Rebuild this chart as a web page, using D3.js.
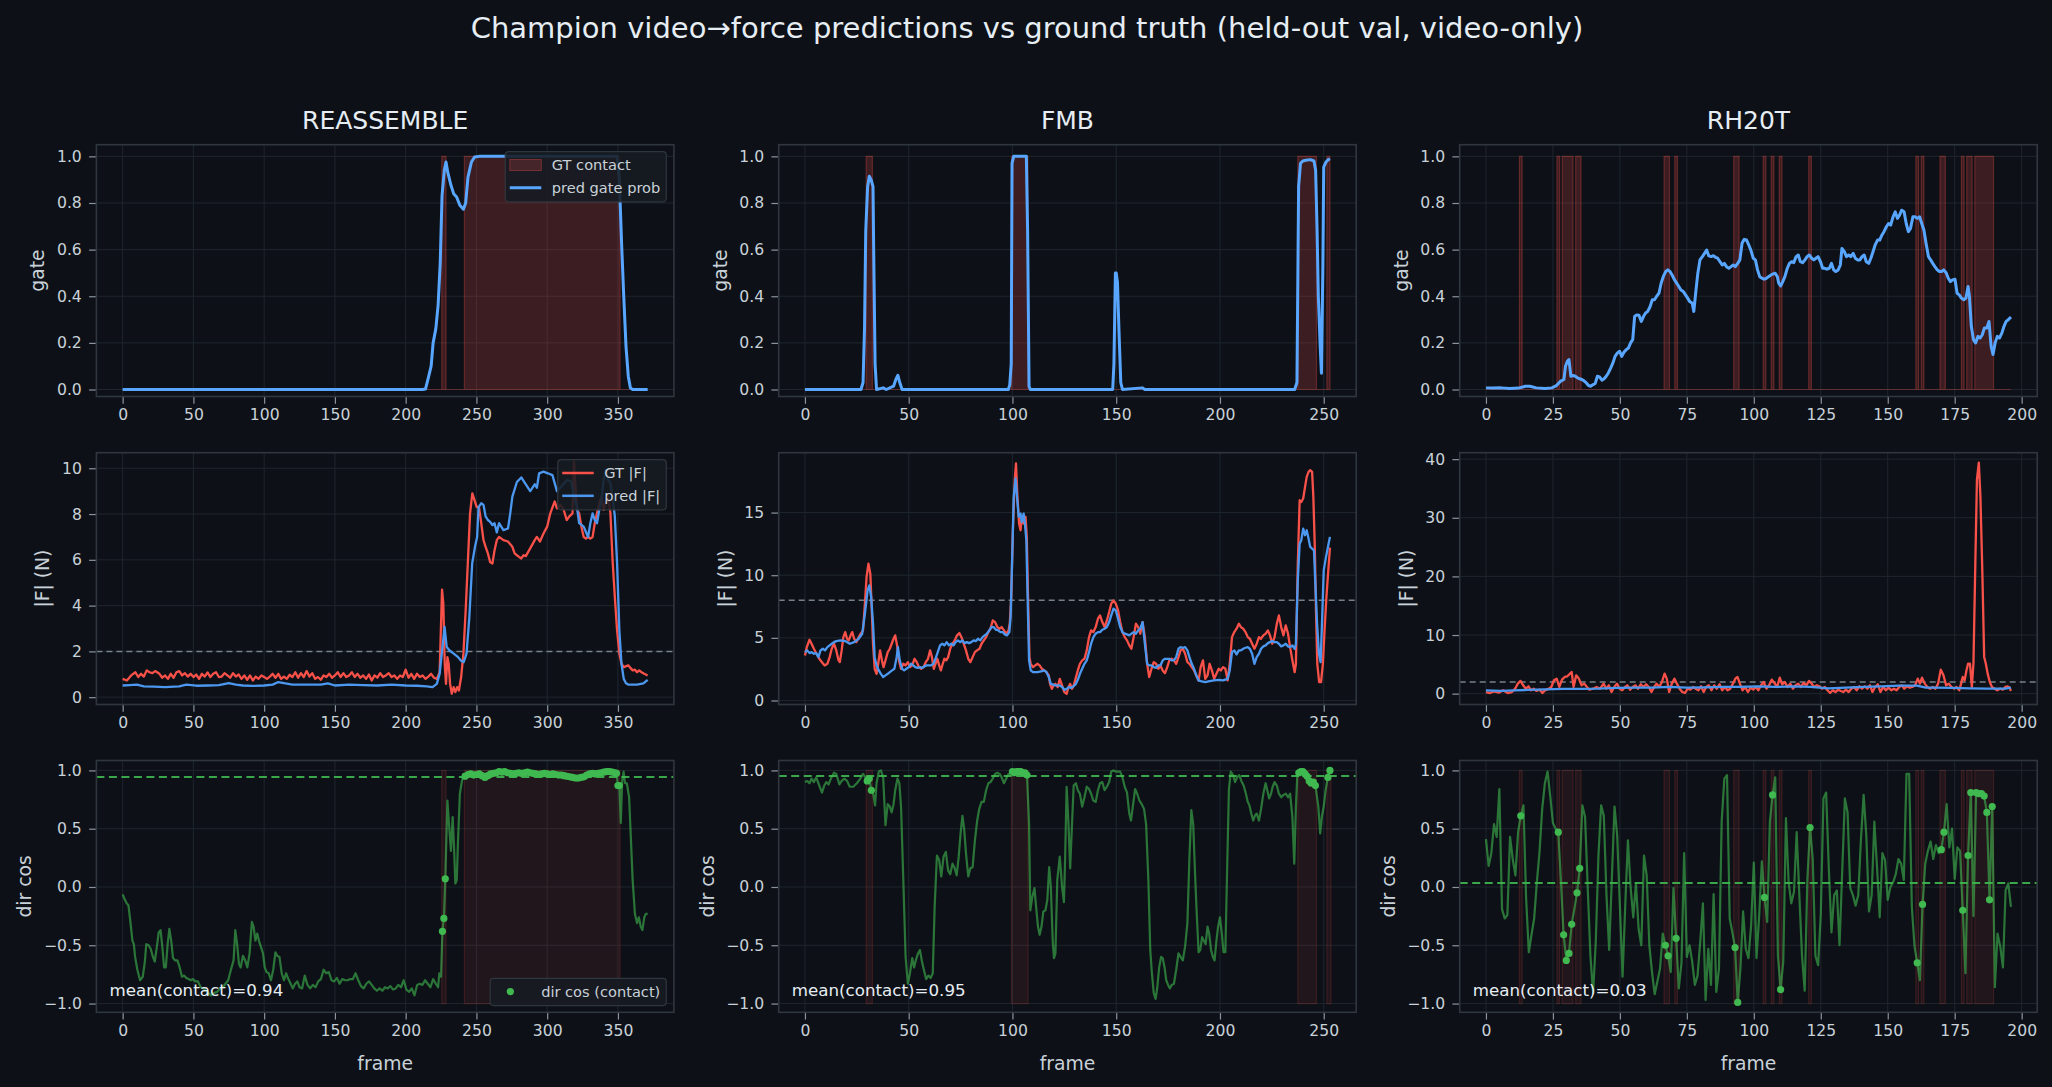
<!DOCTYPE html>
<html>
<head>
<meta charset="utf-8">
<title>Champion video→force predictions</title>
<script src="https://cdn.jsdelivr.net/npm/d3@7"></script>
<style>
  body { margin: 0; background: #0d1117; }
  svg { display: block; font-family: "DejaVu Sans", sans-serif; }
</style>
</head>
<body>
<svg id="chart" width="2052" height="1087"></svg>
<script>
// ---------- data ----------
const datasets = ['REASSEMBLE', 'FMB', 'RH20T'];
const frameCounts = [372, 254, 197];
const xTickVals = [[0, 50, 100, 150, 200, 250, 300, 350], [0, 50, 100, 150, 200, 250], [0, 25, 50, 75, 100, 125, 150, 175, 200]];
const gateTicks = [0, 0.2, 0.4, 0.6, 0.8, 1.0];
const forceTicks = [[0, 2, 4, 6, 8, 10], [0, 5, 10, 15], [0, 10, 20, 30, 40]];
const dirTicks = [-1, -0.5, 0, 0.5, 1];
const forceThresh = [2, 8, 2];
const dirMeans = [0.943, 0.951, 0.034];

// contact frames as [first, last] runs
const reContact = [[226, 228], [242, 351]];
const fmContact = [[30, 32], [100, 107], [238, 246], [252, 253]];
const rhContact = [[13, 13], [27, 27], [29, 32], [34, 35], [67, 68], [71, 71], [93, 94], [104, 104], [107, 107], [110, 110], [121, 121], [161, 161], [163, 163], [170, 171], [178, 178], [180, 181], [183, 189]];

// predicted gate probability [frame, p]
const reGate = [[0,0],[212,0],[214,0.002],[216,0.05],[218,0.1],[219.4,0.2],[221.3,0.26],[222.9,0.36],[224.4,0.54],[225.7,0.83],[227.3,0.94],[228.5,0.976],[229.8,0.93],[232,0.876],[233.9,0.84],[236,0.826],[238.3,0.79],[240.8,0.773],[242.4,0.8],[244,0.91],[246.5,0.976],[248.7,0.997],[251.8,1],[349.4,1],[351,0.9],[352.5,0.64],[354.1,0.4],[355.7,0.185],[357.3,0.057],[358.8,0.007],[360.4,0],[371,0]];
const fmGate = [[0,0],[27,0],[28,0.03],[28.7,0.26],[29.3,0.68],[30.2,0.87],[31,0.915],[31.9,0.9],[32.8,0.87],[33.2,0.54],[33.8,0.11],[34.5,0],[37.7,0.007],[39.2,0],[42.7,0.014],[43.8,0.043],[44.8,0.061],[45.7,0.03],[46.8,0],[98,0],[98.7,0.02],[99.4,0.11],[99.8,0.97],[100.6,1],[106.7,1],[107.3,0.68],[108,0.014],[108.6,0],[148.3,0],[148.9,0.11],[149.6,0.5],[150,0.5],[150.6,0.46],[151.3,0.26],[152.2,0.03],[153,0],[162.7,0.007],[163.8,0],[236,0],[237.1,0.03],[237.9,0.87],[238.8,0.97],[239.9,0.98],[241.4,0.983],[243.5,0.986],[245.3,0.98],[246.1,0.94],[246.8,0.68],[247.4,0.4],[248.3,0.185],[248.9,0.07],[249.6,0.54],[250,0.954],[251.1,0.976],[252.2,0.986],[253,0.99]];
const rhGate = [[0,0.007],[2.3,0.006],[5.6,0.007],[8.9,0.004],[12.2,0.006],[14.7,0.014],[16.4,0.014],[18.8,0.007],[22.1,0.004],[24.6,0.007],[26.3,0.017],[27.9,0.036],[29.1,0.043],[29.7,0.1],[30.4,0.121],[31,0.128],[31.7,0.057],[32.5,0.06],[33.4,0.057],[34.2,0.05],[35,0.046],[35.8,0.043],[36.7,0.036],[37.5,0.028],[38.3,0.017],[39.1,0.014],[40,0.021],[40.8,0.026],[41.6,0.057],[42.4,0.054],[43.3,0.04],[44.1,0.046],[44.9,0.057],[45.7,0.071],[46.6,0.093],[47.4,0.114],[48.2,0.142],[49.1,0.157],[49.9,0.164],[50.7,0.142],[51.5,0.16],[52.4,0.171],[53.2,0.178],[54,0.2],[54.8,0.214],[55.5,0.313],[56.3,0.32],[57.1,0.319],[58,0.292],[58.8,0.313],[59.6,0.328],[60.4,0.335],[61.3,0.356],[62.1,0.385],[62.9,0.385],[63.7,0.399],[64.6,0.413],[65.4,0.456],[66.2,0.484],[67.1,0.506],[67.9,0.513],[68.7,0.506],[69.5,0.491],[70.4,0.47],[71.2,0.456],[72,0.442],[72.8,0.427],[73.7,0.42],[74.5,0.406],[75.3,0.392],[76.1,0.377],[77,0.37],[77.6,0.335],[78.3,0.413],[79.1,0.499],[79.9,0.556],[80.8,0.57],[81.6,0.584],[82.4,0.598],[83.2,0.573],[84.1,0.57],[84.9,0.574],[85.7,0.567],[86.5,0.563],[87.4,0.548],[88.2,0.534],[89,0.541],[89.8,0.527],[90.7,0.52],[91.5,0.527],[92.3,0.534],[93.1,0.527],[94,0.541],[94.8,0.556],[95.6,0.627],[96.4,0.644],[97.3,0.641],[98.1,0.62],[98.9,0.598],[99.8,0.563],[100.6,0.556],[101.4,0.513],[102.2,0.484],[103.1,0.477],[103.9,0.473],[104.7,0.477],[105.5,0.484],[106.4,0.491],[107.2,0.496],[108,0.499],[108.8,0.484],[109.3,0.456],[110,0.444],[110.8,0.463],[111.6,0.484],[112.5,0.52],[113.3,0.541],[114.1,0.548],[114.9,0.544],[115.8,0.57],[116.6,0.577],[117.4,0.548],[118.2,0.544],[119.1,0.556],[119.9,0.57],[120.7,0.577],[121.6,0.563],[122.4,0.556],[123.2,0.563],[124,0.57],[124.9,0.548],[125.7,0.52],[126.5,0.52],[127.3,0.516],[128.2,0.52],[129,0.541],[129.8,0.513],[130.6,0.506],[131.5,0.513],[132.3,0.534],[132.9,0.605],[133.8,0.591],[134.6,0.57],[135.4,0.577],[136.2,0.57],[137.1,0.584],[137.9,0.563],[138.7,0.556],[139.6,0.556],[140.4,0.57],[141.2,0.577],[142,0.548],[142.9,0.541],[143.7,0.563],[144.5,0.591],[145.3,0.62],[146.2,0.641],[147,0.641],[147.8,0.662],[148.6,0.677],[149.5,0.698],[150.3,0.712],[151.1,0.705],[152,0.741],[152.8,0.762],[153.6,0.734],[154.4,0.748],[155.2,0.769],[156.1,0.762],[156.9,0.712],[157.7,0.677],[158.5,0.691],[159.4,0.741],[160.2,0.741],[161,0.734],[161.9,0.741],[162.7,0.712],[163.5,0.684],[164.3,0.627],[165.2,0.57],[166,0.556],[166.8,0.541],[167.6,0.527],[168.5,0.513],[169.3,0.506],[170.1,0.506],[170.9,0.513],[171.8,0.501],[172.6,0.477],[173.4,0.463],[174.2,0.47],[175.1,0.473],[175.9,0.413],[176.7,0.406],[177.5,0.392],[178.4,0.385],[179.2,0.392],[180,0.442],[180.5,0.399],[181.2,0.271],[182,0.214],[182.8,0.2],[183.7,0.228],[184.5,0.221],[185.3,0.235],[186.1,0.264],[187,0.264],[187.8,0.292],[188.6,0.185],[189.3,0.15],[190.1,0.2],[190.9,0.228],[191.7,0.221],[192.6,0.242],[193.4,0.271],[194.2,0.292],[195,0.299],[196,0.311]];

// |F| ground truth and prediction [frame, N]
const reFgt = [[0,0.8],[3,0.73],[6,0.95],[9,1.09],[11,0.88],[13,1.02],[15,0.9],[17,1.17],[19,1.09],[21,1.05],[23,1.14],[26,1.02],[28,0.85],[30,0.95],[32,0.8],[34,1.02],[36,0.85],[38,1.09],[40,1.14],[42,0.95],[44,1.05],[46,0.9],[48,1.02],[50,0.88],[52,0.99],[54,0.8],[56,1.02],[58,0.9],[60,1.08],[62,0.88],[64,1.02],[66,1.09],[68,0.88],[70,0.9],[72,1.05],[74,0.95],[76,0.85],[78,1.05],[80,0.9],[82,0.99],[84,0.8],[86,0.95],[88,0.76],[90,0.95],[92,0.73],[94,0.9],[96,0.8],[98,0.95],[100,0.88],[102,0.8],[104,0.9],[106,1.02],[108,0.85],[110,1.02],[112,0.8],[114,0.9],[116,0.8],[118,0.98],[120,0.88],[122,1.09],[124,0.85],[126,1.05],[128,0.88],[130,1.14],[132,0.9],[134,1.05],[136,0.8],[138,0.88],[140,0.76],[142,0.95],[144,0.88],[146,1.02],[148,0.85],[150,0.95],[152,1.09],[154,0.88],[156,1.05],[158,0.88],[160,0.95],[162,1.09],[164,0.88],[166,1.02],[168,0.85],[170,0.95],[172,0.8],[174,0.99],[176,0.73],[178,0.95],[180,0.85],[182,1.05],[184,0.88],[186,0.95],[188,1.05],[190,0.88],[192,0.95],[194,0.8],[196,0.95],[198,0.88],[200,1.2],[202,0.85],[204,1.02],[206,0.8],[208,1.02],[210,0.88],[212,0.95],[214,0.8],[216,0.9],[218,1.02],[220,0.85],[222,0.8],[224,1.09],[225.7,4.7],[226.6,4.1],[227.6,1.46],[228.5,0.58],[229.5,1.75],[230.4,1.46],[231.4,0.58],[232.6,0.15],[233.9,0.44],[235.1,0.22],[236.4,0.44],[237.6,0.29],[239.2,0.88],[240.8,1.9],[242.4,3.8],[243.9,5.84],[245.5,8.03],[247.1,8.9],[248.7,8.6],[250.2,8.3],[251.8,8.3],[253.4,7.6],[255,6.86],[256.5,6.57],[258.1,6.28],[259.7,5.9],[261.3,5.84],[262.8,6.42],[264.4,6.86],[266,7],[269.1,6.86],[272.3,6.8],[275.4,6.57],[277,6.28],[278.6,6.2],[280.1,6.13],[281.7,6.06],[283.3,6.2],[284.9,6.16],[288,6.5],[291.2,6.86],[292.7,7],[294.9,6.8],[297.4,7.15],[300,7.45],[302.2,8.03],[305.3,8.55],[306.9,8.25],[309.4,8.4],[311.6,8.2],[313.8,7.74],[315.7,7.9],[317.9,8.03],[318.9,10.3],[321,8.2],[322.6,8.03],[324.2,7.45],[325.8,7],[327.4,6.93],[328.9,7],[330.5,6.93],[332.1,7],[333.6,7.6],[335.2,8.03],[336.8,8.47],[338.4,8.76],[339.9,8.18],[341.5,8.54],[343.1,8.76],[344.7,8.03],[346.2,5.99],[347.8,4.38],[349.4,2.92],[351,1.9],[352.5,1.46],[354.1,1.31],[357.3,1.39],[358.8,1.28],[360.4,1.17],[362,1.2],[363.5,1.09],[365,1.17],[366.7,1.09],[368.6,1.02],[371,0.95]];
const reFpred = [[0,0.51],[5,0.53],[10,0.55],[15,0.47],[22,0.46],[30,0.44],[40,0.47],[45,0.55],[52,0.5],[60,0.51],[68,0.53],[75,0.61],[80,0.55],[85,0.51],[92,0.49],[100,0.51],[106,0.55],[110,0.66],[115,0.6],[120,0.55],[130,0.55],[140,0.55],[145,0.6],[150,0.51],[160,0.55],[170,0.53],[180,0.51],[190,0.55],[200,0.51],[208,0.5],[215,0.47],[219,0.44],[222,0.58],[224,1.02],[226,2.19],[227.5,3.07],[229,2.19],[231,2.04],[234,1.9],[237,1.75],[239,1.6],[241,1.53],[243,1.9],[245,3.5],[247,5.84],[249,6.57],[250.5,7],[251.5,8.3],[253.4,8.47],[255,8.4],[256.5,7.9],[258.1,7.74],[259.7,7.66],[261.3,7.52],[262.8,7.6],[264.4,7.2],[266,7.6],[269.1,7.3],[272.3,7.37],[273.9,8.03],[275.4,8.76],[278.6,9.4],[281.7,9.6],[284.9,9.3],[288,9],[291.2,9.3],[292.7,9.15],[294.3,9.78],[297.4,9.85],[300.5,9.78],[303.7,9.7],[306.9,9],[310,9.2],[314,9.49],[317,9.42],[319,8.76],[321,8.32],[322.6,7.6],[325.8,7.45],[328.9,7],[330.5,7.6],[332.1,8.03],[333.6,7.74],[335.2,7.6],[336.8,8.18],[338.4,8.6],[339.9,9.5],[341.5,9.93],[343.1,9.49],[344.7,9.35],[346.2,8.76],[347.8,7.9],[349.4,5.84],[351,2.92],[352.5,1.46],[354.1,0.8],[355.7,0.61],[357.3,0.55],[363.5,0.55],[368,0.6],[371,0.76]];
const fmFgt = [[0,3.6],[0.9,4.26],[2.2,4.85],[3.2,4.53],[4.3,4.13],[5.6,3.73],[6.9,3.33],[8.2,3.06],[9.5,2.8],[10.8,2.93],[11.9,3.46],[12.9,4.13],[14,4.53],[15.1,4],[16.2,3.2],[16.8,3.06],[17.7,4],[18.5,5.06],[19.4,5.46],[20.3,4.93],[21.1,4.8],[22,5.2],[22.8,5.46],[23.7,4.93],[24.8,4.66],[25.9,5.06],[26.9,5.33],[28,5.6],[28.9,7.73],[29.7,9.86],[30.6,10.92],[31.5,10.12],[32.1,7.73],[32.8,4.53],[33.6,2.53],[34.5,2.13],[35.3,2.93],[36.2,4],[37.1,3.2],[37.9,2.66],[38.8,3.2],[39.9,3.86],[40.9,4.13],[41.8,4.53],[42.7,4.93],[43.5,5.2],[44.4,4.4],[45.3,3.2],[46.3,2.53],[47.4,2.93],[48.5,2.8],[49.6,3.06],[50.6,2.66],[51.7,2.8],[52.8,3.33],[53.9,3.06],[55,2.66],[56,2.53],[57.1,2.66],[58.2,3.06],[59.3,3.33],[60.3,4],[61.2,3.46],[62.1,2.53],[62.9,2.93],[63.8,3.33],[64.7,2.8],[65.5,2.4],[66.4,2.93],[67.2,3.33],[68.1,3.2],[69,3.46],[70,4.13],[71.1,4.53],[72.2,4.8],[73.3,5.2],[74.4,5.38],[75.4,5.06],[76.5,4.53],[77.6,4],[78.7,3.33],[79.7,3.06],[80.8,3.46],[81.9,3.86],[82.9,4],[84.1,4.13],[85.1,4.53],[86.2,4.8],[87.3,5.06],[88.4,5.46],[89.4,5.73],[90.5,6.39],[91.6,6.26],[92.7,5.86],[93.8,5.73],[94.8,5.86],[95.9,5.6],[97,5.33],[98.1,5.6],[98.7,6.13],[99.4,8.26],[100.2,13.59],[101.1,17.59],[101.7,18.92],[102.4,16.25],[103.2,14.12],[103.9,13.59],[104.5,14.65],[105.4,14.12],[106.3,14.65],[106.9,13.06],[107.5,8.26],[108.2,3.46],[108.8,2.93],[109.9,2.66],[111,2.8],[112.1,2.93],[113.1,2.8],[114.2,2.53],[115.3,2.4],[116.4,2.26],[117.5,2],[118.1,1.33],[119,0.93],[119.8,1.2],[120.7,1.33],[121.8,1.07],[122.8,1.73],[123.9,1.2],[125,0.67],[126.1,0.53],[127,1.07],[127.8,1.33],[128.7,0.93],[129.5,1.2],[130.4,1.73],[131.5,2.4],[132.5,2.93],[133.6,3.2],[134.7,3.33],[135.8,4],[136.9,5.06],[137.9,5.6],[139,5.46],[140.1,5.86],[141.2,6.53],[142.2,6.79],[143.3,6.26],[144.4,5.86],[145.5,6.39],[146.6,7.06],[147.6,7.73],[148.7,7.99],[149.8,7.73],[150.9,7.19],[151.9,6.26],[153,5.46],[154.1,5.06],[155.2,4.8],[156.3,4.4],[157.3,4.13],[158.4,5.06],[159.5,6.13],[160.6,5.86],[161.6,5.33],[162.7,6.26],[163.8,5.06],[164.9,2.93],[165.9,1.87],[167,2.53],[168.1,3.06],[169.2,2.93],[170.3,2.53],[171.3,2.8],[172.4,2.4],[173.5,2.18],[174.6,2.66],[175.6,3.2],[176.7,3.33],[177.8,3.2],[178.9,2.93],[180,3.46],[181,4],[182.1,4.13],[183.2,3.73],[184.3,3.06],[185.3,2.93],[186.4,2.66],[187.5,2.4],[188.6,2],[189.7,1.6],[190.7,2.66],[191.8,3.2],[192.9,1.73],[194,2],[195,2.93],[196.1,2.4],[197.2,1.73],[198.3,2.13],[199.4,2.53],[200.4,2.4],[201.5,2.66],[202.6,2.53],[203.7,1.6],[204.7,2.93],[205.8,5.06],[206.9,5.46],[208,5.73],[209.1,6.13],[210.1,5.86],[211.2,5.73],[212.3,5.46],[213.4,5.06],[214.4,4.93],[215.5,4.53],[216.6,4.13],[217.7,4.53],[218.8,5.06],[219.8,4.93],[220.9,5.2],[222,5.33],[223.1,5.6],[224.1,5.2],[225.2,4.53],[226.3,5.06],[227.4,6.13],[228.4,6.79],[229.5,5.86],[230.6,5.2],[231.7,6],[232.8,5.33],[233.8,4.26],[234.9,3.2],[236,2.26],[236.6,2.93],[237.5,10.92],[238.4,15.99],[239.2,15.85],[240.1,16.12],[241,17.05],[241.8,17.85],[242.7,18.25],[243.5,18.39],[244.4,18.25],[245,16.25],[245.7,12.26],[246.3,6.93],[246.9,2.93],[247.8,1.47],[248.7,1.47],[249.6,2.93],[250.4,5.6],[251.3,8.26],[252.2,10.39],[253,12.2]];
const fmFpred = [[0,3.86],[1.1,4],[2.2,3.78],[3.2,3.86],[4.3,3.73],[5.4,3.78],[6.5,3.46],[7.5,4],[8.6,4.13],[9.7,4],[10.8,4.26],[11.9,4.4],[12.9,4.53],[14,4.66],[15.1,4.74],[17.2,4.8],[19.4,4.74],[21.6,4.53],[23.7,4.66],[25.9,4.93],[27.6,5.33],[28.9,6.93],[30.2,8.79],[31,9.19],[31.9,8.26],[32.8,6.13],[33.6,3.46],[34.5,2.8],[35.6,2.4],[36.6,2.13],[37.7,1.87],[38.8,2],[39.9,2.13],[40.9,2.26],[42,2.4],[43.1,2.53],[44.2,3.46],[44.8,4.26],[45.7,3.2],[46.8,2.53],[47.8,2.4],[48.9,2.53],[50,2.66],[51.1,2.93],[52.2,2.8],[53.2,2.66],[54.3,2.61],[55.4,2.66],[56.5,2.61],[57.5,2.72],[58.6,2.8],[59.7,2.8],[60.8,2.8],[61.9,2.93],[62.9,3.33],[64,3.86],[65.1,4.4],[66.2,4.53],[67.2,4.4],[68.3,4.66],[69.4,4.4],[70.5,4.53],[71.6,4.4],[72.6,4.66],[73.7,4.8],[74.8,4.66],[75.9,4.8],[76.9,4.58],[78,4.66],[79.1,4.58],[80.2,4.66],[81.3,4.8],[82.3,4.74],[83.4,4.93],[84.5,4.8],[85.6,5.06],[86.6,5.2],[87.7,5.33],[88.8,5.6],[89.9,5.86],[90.9,5.86],[92,5.65],[93.1,5.6],[94.2,5.46],[95.3,5.46],[96.3,5.28],[97.4,5.2],[98.5,5.46],[99.1,6.66],[99.8,10.92],[100.6,16.25],[101.5,17.72],[102.2,16.25],[103,14.65],[103.9,14.92],[104.5,14.25],[105.4,14.92],[106,14.12],[106.7,12.79],[107.3,8.26],[108,3.2],[108.8,2.4],[109.9,2.26],[112.1,2.26],[114.2,2.34],[115.3,2.4],[116.4,2.26],[117.5,1.87],[118.5,1.33],[120.7,1.2],[122.8,1.2],[123.9,1.07],[125,0.85],[126.1,0.93],[127.2,1.07],[128.2,1.01],[129.3,1.12],[130.4,1.28],[131.5,1.65],[132.5,2.13],[133.6,2.53],[134.7,2.93],[135.8,3.2],[136.9,3.86],[137.9,4.53],[139,5.06],[140.1,5.33],[141.2,5.46],[142.2,5.46],[143.3,5.65],[144.4,5.73],[145.5,5.86],[146.6,6.26],[147.6,6.79],[148.7,7.33],[149.8,7.19],[150.9,6.53],[151.9,5.86],[153,5.46],[154.1,5.33],[155.2,5.28],[156.3,5.2],[157.3,5.33],[158.4,5.46],[159.5,5.33],[160.6,5.6],[161.6,5.73],[162.7,6.26],[163.8,4.53],[164.9,2.93],[165.9,2.8],[167,2.8],[168.1,2.66],[169.2,2.61],[170.3,2.8],[171.3,2.8],[172.4,3.2],[173.5,3.33],[174.6,3.33],[175.6,3.33],[176.7,3.2],[177.8,3.2],[178.9,3.46],[180,4.13],[181,4.26],[182.1,4.21],[183.2,4.26],[184.3,4],[185.3,3.46],[186.4,2.93],[187.5,2.53],[188.6,2],[189.7,1.6],[190.7,1.55],[192.9,1.47],[195,1.55],[197.2,1.6],[199.4,1.65],[201.5,1.6],[203.7,1.73],[204.7,2.4],[205.8,3.86],[206.9,4],[208,3.68],[209.1,4],[210.1,4],[211.2,4.13],[212.3,4.21],[213.4,4.26],[214.4,4.13],[215.5,3.73],[216.6,2.93],[217.7,3.46],[218.8,3.73],[219.8,4.13],[220.9,4.32],[222,4.4],[223.1,4.58],[224.1,4.66],[225.2,4.74],[226.3,4.66],[227.4,4.66],[228.4,4.53],[229.5,4.32],[230.6,4.4],[231.7,4.53],[232.8,4.32],[233.8,4.26],[234.9,4.4],[236,4.13],[236.6,4.53],[237.5,9.59],[238.4,12.52],[239.2,12.79],[240.1,13.72],[241,13.19],[241.8,13.59],[242.7,12.92],[243.5,12.26],[244.4,12.12],[245.3,11.99],[245.9,9.59],[246.8,6.13],[247.7,3.73],[248.5,3.06],[249.1,5.86],[250,10.39],[251.1,11.46],[252.2,12.39],[253,13.06]];
const rhFgt = [[0,0.28],[1.5,0.11],[3.1,0.4],[4.8,0.17],[6.4,0.57],[8.1,0.11],[9.7,0.28],[10.9,0.85],[11.9,1.71],[12.9,2.17],[13.9,1.42],[14.9,0.85],[15.9,1.25],[16.8,0.57],[17.8,0.85],[18.8,0.46],[20.1,0.68],[21.1,0.11],[22.1,0.57],[23.5,0.85],[24.4,1.14],[25.4,2.28],[26.4,2.56],[27.4,1.14],[28.4,2.39],[29.4,2.85],[30.4,2.96],[31.4,3.42],[32,3.7],[32.7,1.14],[33.7,3.13],[34.7,2.56],[35.7,1.42],[36.7,1.71],[37.7,1.14],[38.6,0.68],[40,0.85],[41.3,1.14],[42.6,0.85],[43.9,1.71],[44.9,0.85],[45.9,1.42],[46.9,0.28],[47.9,1.14],[48.9,1.71],[49.9,0.85],[50.9,0.57],[51.9,1.14],[52.8,1.42],[53.8,0.68],[54.8,1.14],[55.8,1.42],[56.8,0.85],[57.8,1.6],[58.8,1.14],[59.8,1.6],[60.8,1.14],[61.8,0.28],[62.8,1.14],[63.7,1.71],[64.7,1.14],[65.7,1.99],[66.7,3.42],[67.5,2.56],[68.4,0.28],[69.4,1.71],[70.4,2.56],[71.3,1.71],[72.3,0.85],[73.3,0.28],[74.3,0.11],[75.3,0.85],[76.3,0.68],[77.3,1.14],[78.3,0.85],[79.3,0.57],[80.3,1.25],[81.3,0.28],[82.2,1.14],[83.2,1.42],[84.2,0.57],[85.2,1.42],[86.2,0.85],[87.2,1.6],[88.2,0.57],[89.2,1.14],[90.2,0.57],[91.2,0.85],[92.2,1.71],[93.1,2.56],[93.9,2.85],[94.8,1.71],[95.8,0.57],[96.8,1.14],[97.8,0.28],[98.8,1.03],[99.8,0.68],[100.7,1.14],[101.7,0.57],[102.7,1.42],[103.7,1.99],[104.7,0.85],[105.7,1.42],[106.7,2.39],[107.7,1.82],[108.7,1.14],[109.7,2.73],[110.6,1.6],[111.6,1.99],[112.6,1.14],[113.6,1.71],[114.6,0.85],[115.6,1.42],[116.6,1.71],[117.6,1.14],[118.6,1.82],[119.6,1.42],[120.6,2.17],[121.6,1.71],[122.5,1.14],[123.5,1.42],[124.5,1.25],[125.5,0.85],[126.5,1.14],[127.5,0.57],[128.5,0.11],[129.5,0.57],[130.5,0.28],[131.5,0.68],[132.5,0.46],[133.4,0.28],[134.4,0.68],[135.4,0.28],[136.4,0.85],[137.4,1.14],[138.4,0.57],[139.4,1.25],[140.4,0.85],[141.4,1.25],[142.4,0.85],[143.4,1.42],[144.3,0.28],[145.3,1.14],[146.3,1.6],[147.3,0.28],[148.3,1.14],[149.3,0.57],[150.3,1.03],[151.3,0.57],[152.3,0.85],[153.3,0.57],[154.3,1.14],[155.2,1.42],[156.2,0.85],[157.2,1.25],[158.2,1.03],[159.2,1.14],[160.2,1.42],[161.2,2.56],[162,1.71],[162.8,2.73],[163.8,1.71],[164.8,1.14],[165.8,0.85],[166.8,1.14],[167.8,0.85],[168.8,1.71],[169.8,4.1],[170.8,3.13],[171.8,1.42],[172.8,1.71],[173.8,1.14],[174.7,0.85],[175.7,1.14],[176.7,0.57],[177.4,1.71],[178,2.85],[178.7,2.28],[179.4,3.99],[180,5.13],[180.7,5.13],[181.4,1.14],[182,5.13],[182.7,22.2],[183.3,36.5],[184,39.4],[184.6,33.6],[185.3,21.1],[186,6.27],[186.6,5.13],[187.3,3.42],[188.1,1.99],[188.9,1.14],[189.9,0.85],[190.9,0.57],[191.9,0.85],[193,0.68],[193.9,1.14],[194.7,1.25],[195.5,1.03],[196,0.46]];
const rhFpred = [[0,0.57],[5.6,0.46],[10.6,0.57],[15.5,0.63],[22.1,0.74],[28.7,0.8],[35.3,0.8],[41.9,0.85],[48.6,0.97],[55.2,1.03],[61.8,1.03],[68.4,1.14],[75,1.03],[81.6,1.08],[88.2,1.14],[94.8,1.14],[101.4,1.25],[108,1.14],[114.6,1.25],[121.2,1.14],[127.8,0.91],[134.4,1.03],[141,1.14],[147.6,1.25],[154.3,1.37],[160.9,1.37],[164.2,1.03],[167.5,1.03],[174.2,0.97],[180.5,0.91],[187.3,0.85],[193.9,0.85],[196,1.03]];

// direction cosine: line samples outside contact, and samples at contact frames
const reDirLine = [[0,-0.063],[1.6,-0.11],[2.8,-0.14],[4.1,-0.157],[5.4,-0.29],[6.9,-0.46],[7.9,-0.49],[8.8,-0.6],[10.4,-0.71],[12.3,-0.8],[14.2,-0.77],[15.7,-0.64],[16.7,-0.49],[18.3,-0.5],[19.8,-0.53],[21.4,-0.6],[22.7,-0.64],[24.2,-0.51],[25.5,-0.39],[26.8,-0.37],[28,-0.51],[29.3,-0.69],[30.5,-0.69],[31.8,-0.49],[33,-0.36],[34.3,-0.46],[35.6,-0.61],[37.1,-0.63],[38.7,-0.63],[40.3,-0.69],[41.9,-0.77],[43.4,-0.76],[45,-0.78],[46.6,-0.79],[48.2,-0.8],[49.7,-0.79],[51.3,-0.81],[53.2,-0.81],[55.1,-0.86],[57,-0.87],[58.9,-0.89],[60.7,-0.91],[62.6,-0.93],[64.5,-0.91],[66.7,-0.9],[68.9,-0.87],[70.8,-0.86],[72.7,-0.83],[74.6,-0.8],[76.5,-0.71],[78.4,-0.63],[79.6,-0.37],[80.9,-0.49],[82.2,-0.66],[83.4,-0.69],[85,-0.59],[86.6,-0.63],[88.1,-0.69],[89.7,-0.57],[91.3,-0.3],[92.5,-0.34],[93.8,-0.46],[95.1,-0.4],[96.3,-0.46],[97.6,-0.51],[99.2,-0.57],[100.4,-0.69],[101.7,-0.73],[103.2,-0.74],[104.8,-0.8],[106.4,-0.71],[108,-0.56],[109.2,-0.59],[110.8,-0.6],[112.4,-0.74],[114,-0.8],[115.5,-0.74],[117.1,-0.79],[118.7,-0.83],[120.2,-0.87],[121.8,-0.83],[123.4,-0.81],[125,-0.86],[126.8,-0.87],[128.7,-0.76],[130.6,-0.84],[132.5,-0.87],[134.4,-0.84],[136.3,-0.86],[138.2,-0.81],[140.1,-0.79],[142,-0.71],[143.8,-0.74],[145.7,-0.73],[147.6,-0.8],[149.5,-0.81],[151.4,-0.78],[153.3,-0.83],[155.2,-0.79],[157.1,-0.8],[159,-0.8],[160.8,-0.79],[162.7,-0.79],[164.6,-0.74],[166.5,-0.8],[168.4,-0.85],[170.3,-0.87],[172.2,-0.83],[174.1,-0.81],[176,-0.84],[177.8,-0.87],[179.7,-0.89],[181.6,-0.87],[183.5,-0.89],[185.4,-0.86],[187.3,-0.87],[189.2,-0.85],[191.1,-0.88],[193,-0.87],[194.8,-0.84],[196.7,-0.86],[198.6,-0.8],[200.5,-0.88],[202.4,-0.9],[204.3,-0.87],[206.2,-0.93],[208.1,-0.84],[210,-0.83],[211.8,-0.84],[213.7,-0.8],[215.6,-0.83],[217.5,-0.86],[219.4,-0.79],[221.3,-0.83],[222.9,-0.86],[223.8,-0.74],[225,-0.77],[229.5,0.74],[230.8,0.51],[232,0.31],[233.2,0.6],[234.2,0.34],[235.1,0.03],[236.1,0.06],[237,0.4],[238.3,0.8],[239.5,0.89],[240.8,0.97],[352,0.55],[353,0.91],[354,0.99],[355,0.89],[356.3,0.89],[357.9,0.77],[359.2,0.4],[360.4,0.06],[362,-0.23],[363.5,-0.31],[364.8,-0.26],[366.1,-0.34],[367.3,-0.37],[368.6,-0.26],[369.8,-0.23],[371,-0.23]];
const reDirDots = [[226,-0.38],[227,-0.27],[228,0.07],[242,0.95],[244,0.965],[246,0.97],[248,0.96],[250,0.965],[252,0.97],[254,0.955],[256,0.94],[258,0.955],[260,0.97],[262,0.975],[264,0.98],[266,0.99],[268,0.985],[270,0.99],[272,0.98],[274,0.975],[276,0.97],[278,0.975],[280,0.98],[282,0.975],[284,0.98],[286,0.985],[288,0.98],[290,0.975],[292,0.97],[294,0.965],[296,0.97],[298,0.975],[300,0.97],[302,0.965],[304,0.97],[306,0.965],[308,0.96],[310,0.96],[312,0.955],[314,0.95],[316,0.945],[318,0.94],[320,0.935],[322,0.935],[324,0.94],[326,0.945],[328,0.96],[330,0.97],[332,0.975],[334,0.97],[336,0.975],[338,0.98],[340,0.985],[342,0.99],[344,0.99],[346,0.985],[348,0.98],[349,0.975],[350,0.87],[351,0.87]];
const fmDirLine = [[0,0.9],[1.1,0.91],[2.2,0.89],[3.2,0.93],[4.3,0.9],[5.4,0.94],[6.5,0.89],[8.2,0.81],[9.3,0.87],[10.3,0.9],[11.4,0.88],[12.5,0.93],[14,0.98],[15.1,0.97],[16.6,0.88],[17.7,0.91],[19,0.93],[20.3,0.91],[21.6,0.86],[23.3,0.86],[25,0.89],[26.7,0.93],[28,0.97],[29.1,0.94],[33,0.79],[33.8,0.7],[34.5,0.89],[35.6,0.99],[36.6,1],[37.7,0.94],[38.8,0.53],[39.9,0.71],[40.9,0.69],[41.8,0.64],[42.7,0.71],[43.5,0.83],[44.6,0.93],[45.5,0.89],[46.3,0.69],[47.4,0.06],[48.5,-0.6],[49.6,-0.83],[50.6,-0.74],[51.7,-0.61],[52.6,-0.69],[53.4,-0.63],[54.5,-0.57],[55.4,-0.54],[56.3,-0.63],[57.3,-0.71],[58.4,-0.79],[59.5,-0.76],[60.6,-0.78],[61.6,-0.74],[62.5,-0.17],[63.6,0.27],[64.7,0.23],[65.7,0.09],[66.8,0.26],[67.9,0.3],[69,0.14],[70,0.11],[71.1,0.2],[72,0.17],[73.1,0.1],[74.1,0.26],[75,0.46],[75.9,0.61],[76.7,0.5],[77.6,0.29],[78.7,0.09],[79.7,0.16],[80.8,0.17],[81.9,0.4],[83,0.57],[84,0.67],[85.1,0.73],[86.2,0.73],[87.3,0.83],[88.4,0.89],[89.4,0.9],[90.5,0.93],[91.6,0.97],[92.7,0.98],[93.8,0.97],[94.8,0.94],[95.9,0.89],[97,0.93],[98.1,0.97],[99.1,0.97],[108,0.54],[108.6,-0.2],[109.5,-0.09],[110.6,-0.01],[111.4,-0.17],[112.3,-0.34],[113.1,-0.41],[114,-0.34],[114.9,-0.21],[115.9,-0.2],[116.8,-0.11],[117.7,0.17],[118.5,0],[119.4,-0.46],[120,-0.61],[120.7,-0.57],[121.6,0.06],[122.8,0.26],[123.9,0],[124.8,-0.13],[125.4,0.26],[126.1,0.86],[127,0.54],[127.8,0.16],[128.7,0.54],[129.5,0.87],[130.6,0.89],[131.5,0.83],[132.5,0.8],[133.6,0.69],[134.7,0.77],[135.8,0.86],[136.9,0.84],[137.9,0.8],[139,0.74],[140.1,0.73],[141.2,0.83],[142.2,0.89],[143.3,0.9],[144.4,0.83],[145.5,0.86],[146.6,0.9],[147.6,0.99],[148.7,1],[149.8,0.99],[150.9,0.99],[151.9,0.99],[153,0.94],[154.1,0.86],[155.2,0.81],[156.3,0.63],[157.1,0.57],[158,0.69],[159.1,0.84],[160.1,0.8],[161.2,0.74],[162.3,0.71],[163.4,0.67],[164.4,0.54],[165.5,0.06],[166.4,-0.54],[167.2,-0.74],[168.1,-0.91],[169,-0.96],[169.8,-0.86],[170.7,-0.69],[171.6,-0.6],[172.4,-0.61],[173.3,-0.69],[174.1,-0.8],[175,-0.84],[175.9,-0.87],[176.7,-0.84],[177.8,-0.83],[178.9,-0.71],[180,-0.57],[181,-0.6],[182.1,-0.63],[183.2,-0.51],[184.3,-0.31],[185.3,0.26],[186.2,0.66],[187.1,0.54],[188,0.11],[188.8,-0.23],[189.7,-0.56],[190.5,-0.54],[191.4,-0.43],[192.2,-0.46],[193.1,-0.49],[194,-0.34],[194.8,-0.4],[195.7,-0.54],[196.6,-0.6],[197.4,-0.63],[198.3,-0.46],[199.1,-0.34],[200,-0.26],[200.9,-0.4],[201.7,-0.56],[202.6,-0.56],[203.4,0.11],[204.3,0.83],[205.2,0.99],[206.3,0.96],[207.3,0.9],[208.2,0.94],[209.3,0.96],[210.3,0.91],[211.4,0.87],[212.5,0.8],[213.4,0.73],[214.2,0.7],[215.1,0.63],[216,0.57],[216.8,0.61],[217.7,0.63],[218.8,0.57],[219.8,0.67],[220.9,0.8],[222,0.89],[222.8,0.83],[223.7,0.76],[224.6,0.8],[225.4,0.86],[226.3,0.9],[227.4,0.87],[228.4,0.8],[229.5,0.77],[230.6,0.79],[231.7,0.8],[232.8,0.77],[233.8,0.8],[234.9,0.6],[235.8,0.2],[236.6,0.69],[237.3,0.97],[247.4,0.69],[248.3,0.46],[249.1,0.6],[250,0.69],[250.9,0.83]];
const fmDirDots = [[30,0.91],[31,0.93],[32,0.83],[100,0.99],[101,0.98],[102,0.99],[103,0.99],[104,0.99],[105,0.98],[106,0.98],[107,0.96],[238,0.98],[239,0.99],[240,0.99],[241,0.97],[242,0.95],[243,0.91],[244,0.89],[245,0.9],[246,0.87],[252,0.94],[253,1]];
const rhDirLine = [[0,0.41],[1,0.18],[2,0.29],[3,0.54],[4,0.43],[5,0.84],[6,-0.19],[7,-0.27],[8,-0.24],[9,0.43],[10,0.24],[11,0.1],[12,0.47],[14,0.7],[15,-0.1],[16,-0.56],[17,-0.41],[18,-0.27],[19,0.04],[20,0.3],[21,0.67],[22,0.89],[23,0.99],[24,0.78],[25,0.55],[26,0.5],[28,0.05],[33,-0.19],[36,0.7],[37,0.6],[38,-0.01],[39,-0.59],[40,-0.91],[41,-0.47],[42,0.27],[43,0.7],[44,0.61],[45,-0.07],[46,-0.54],[47,0.07],[48,0.69],[49,0.44],[50,-0.16],[51,-0.77],[52,-0.16],[53,0.4],[54,0],[55,-0.26],[56,0.03],[57,-0.36],[58,-0.5],[59,0.27],[60,0.1],[61,-0.5],[62,-0.73],[63,-0.92],[64,-0.81],[65,-0.7],[66,-0.4],[69,-0.73],[70,-0.01],[72,-0.87],[73,-0.65],[74,0.29],[75,-0.6],[76,-0.5],[77,-0.64],[78,-0.84],[79,-0.76],[80,-0.47],[81,-0.14],[82,-0.97],[83,-0.53],[84,-0.84],[85,-0.06],[86,-0.9],[87,-0.7],[88,0.56],[89,0.93],[90,0.96],[91,-0.27],[92,-0.39],[95,-0.7],[96,-0.21],[97,-0.53],[98,-0.61],[99,-0.33],[100,0.21],[101,-0.61],[102,-0.25],[103,0.22],[105,-0.3],[106,0.56],[108,0.94],[109,-0.59],[111,-0.64],[112,0.59],[113,0.04],[114,-0.14],[115,-0.04],[116,0.47],[117,-0.07],[118,-0.59],[119,-0.89],[120,0.07],[122,0.24],[123,-0.59],[124,-0.67],[125,-0.24],[126,0.76],[127,0.81],[128,0.16],[129,-0.39],[130,-0.07],[131,-0.03],[132,-0.5],[133,0.13],[134,0.76],[135,0.64],[136,-0.01],[137,-0.07],[138,-0.16],[139,-0.07],[140,0.41],[141,0.79],[142,0.44],[143,-0.21],[144,-0.07],[145,0.56],[146,0.17],[147,-0.26],[148,0.29],[149,0.23],[150,-0.11],[151,0],[152,0.04],[153,0.11],[154,0.24],[155,0.2],[156,0.06],[157,0.97],[158,0.97],[159,-0.17],[160,-0.51],[162,-0.8],[164,0.2],[165,0.31],[166,0.39],[167,0.24],[168,0.36],[169,0.29],[172,0.71],[173,0.34],[174,0.5],[175,0.07],[176,0.34],[177,0.31],[179,-0.74],[182,-0.25],[190,-0.86],[191,-0.4],[192,-0.51],[193,-0.69],[194,-0.03],[195,0.03],[196,-0.17]];
const rhDirDots = [[13,0.61],[27,0.47],[29,-0.41],[30,-0.63],[31,-0.57],[32,-0.32],[34,-0.05],[35,0.16],[67,-0.5],[68,-0.59],[71,-0.44],[93,-0.52],[94,-0.99],[104,-0.09],[107,0.79],[110,-0.88],[121,0.51],[161,-0.65],[163,-0.15],[170,0.32],[171,0.47],[178,-0.2],[180,0.27],[181,0.81],[183,0.81],[184,0.8],[185,0.8],[186,0.78],[187,0.64],[188,-0.11],[189,0.69]];

const contacts = [reContact, fmContact, rhContact];
const gates = [reGate, fmGate, rhGate];
const forceGT = [reFgt, fmFgt, rhFgt];
const forcePred = [reFpred, fmFpred, rhFpred];
const dirLines = [reDirLine, fmDirLine, rhDirLine];
const dirDots = [reDirDots, fmDirDots, rhDirDots];

// ---------- layout / style ----------
const colX = [96.4, 778.7, 1459.7], colW = 577.5;
const rowY = [144.7, 452.7, 760.5], rowH = 251.8;
const xDomains = [[-18.55, 389.55], [-12.65, 265.65], [-9.8, 205.8]];
const gateDomain = [-0.03, 1.05];
const forceDomains = [[-0.32, 10.68], [-0.32, 19.78], [-1.85, 41.1]];
const dirDomain = [-1.075, 1.085];

const BLUE = '#58a6ff', RED = '#f85149', GREEN = '#3fb950';
const TXT = '#c9d1d9', TITLE = '#e6edf3', SPINE = '#30363d', GRID = '#1f252d';
const FONT = '"DejaVu Sans", sans-serif';

const svg = d3.select('#chart');
svg.append('rect').attr('width', 2052).attr('height', 1087).attr('fill', '#0d1117');

svg.append('text')
  .attr('x', 1027).attr('y', 37.5)
  .attr('text-anchor', 'middle')
  .attr('font-size', 29).attr('fill', TITLE)
  .text('Champion video→force predictions vs ground truth (held-out val, video-only)');

function panel(col, row, yDomain, yTicks, yFmt, ylabel) {
  const left = colX[col], top = rowY[row];
  const x = d3.scaleLinear().domain(xDomains[col]).range([left, left + colW]);
  const y = d3.scaleLinear().domain(yDomain).range([top + rowH, top]);
  const g = svg.append('g');

  // grid
  const grid = g.append('g');
  grid.selectAll('.gx').data(xTickVals[col]).enter().append('line')
    .attr('x1', d => x(d)).attr('x2', d => x(d))
    .attr('y1', top).attr('y2', top + rowH)
    .attr('stroke', GRID).attr('stroke-width', 1);
  grid.selectAll('.gy').data(yTicks).enter().append('line')
    .attr('x1', left).attr('x2', left + colW)
    .attr('y1', d => y(d)).attr('y2', d => y(d))
    .attr('stroke', GRID).attr('stroke-width', 1);

  // axes
  const ax = g.append('g').attr('transform', 'translate(0,' + (top + rowH) + ')')
    .call(d3.axisBottom(x).tickValues(xTickVals[col]).tickSize(7.3).tickPadding(5.5).tickFormat(d3.format('d')));
  const ay = g.append('g').attr('transform', 'translate(' + left + ',0)')
    .call(d3.axisLeft(y).tickValues(yTicks).tickSize(7.3).tickPadding(7.3).tickFormat(d3.format(yFmt)));
  [ax, ay].forEach(a => {
    a.attr('font-size', 15.6).attr('font-family', FONT);
    a.select('.domain').remove();
    a.selectAll('.tick line').attr('stroke', '#8b949e').attr('stroke-width', 1.2);
    a.selectAll('.tick text').attr('fill', TXT);
  });

  const maxW = d3.max(ay.selectAll('.tick text').nodes(), n => n.getBBox().width);
  svg.append('text')
    .attr('transform', 'translate(' + (left - 14.6 - maxW - 18.3) + ',' + (top + rowH / 2) + ') rotate(-90)')
    .attr('text-anchor', 'middle').attr('dy', '0.3em')
    .attr('font-size', 18.75).attr('fill', TXT)
    .text(ylabel);

  const data = g.append('g');
  const frame = () => g.append('rect')
    .attr('x', left).attr('y', top).attr('width', colW).attr('height', rowH)
    .attr('fill', 'none').attr('stroke', SPINE).attr('stroke-width', 1.6);
  return { g: data, x, y, left, top, frame };
}

function legend(p, anchor, items, handleW) {
  const lg = svg.append('g');
  const box = lg.append('rect');
  const texts = items.map(it => lg.append('text')
    .attr('font-size', 14.6).attr('fill', TXT).attr('dy', '0.35em').text(it.label));
  const maxW = d3.max(texts, t => t.node().getComputedTextLength());
  const w = 4.5 + handleW + 10.5 + maxW + 6;
  const h = 4 + items.length * 22.8 + 0.5;
  const right = p.left + colW - 7.6;
  const left = right - w;
  const top = anchor === 'upper' ? p.top + 7 : p.top + rowH - 6.7 - h;
  box.attr('x', left).attr('y', top).attr('width', w).attr('height', h)
    .attr('rx', 3.5).attr('fill', '#161b22').attr('fill-opacity', 0.88)
    .attr('stroke', SPINE).attr('stroke-width', 1.2);
  items.forEach((it, i) => {
    const cy = top + 13.3 + i * 22.8;
    texts[i].attr('x', left + 4.5 + handleW + 10.5).attr('y', cy);
    if (it.type === 'patch') {
      lg.append('rect').attr('x', left + 4.5).attr('y', cy - 5.5).attr('width', handleW).attr('height', 11)
        .attr('fill', RED).attr('fill-opacity', 0.2).attr('stroke', RED).attr('stroke-opacity', 0.35);
    } else if (it.type === 'line') {
      lg.append('line').attr('x1', left + 4.5).attr('x2', left + 4.5 + handleW).attr('y1', cy).attr('y2', cy)
        .attr('stroke', it.color).attr('stroke-width', it.width);
    } else {
      lg.append('circle').attr('cx', left + 20.2).attr('cy', cy).attr('r', 3.6).attr('fill', GREEN);
    }
  });
}

const inContact = (segs, f) => segs.some(s => f >= s[0] && f <= s[1]);

datasets.forEach((name, c) => {
  const colCenter = colX[c] + colW / 2;
  svg.append('text')
    .attr('x', colCenter).attr('y', 128.5)
    .attr('text-anchor', 'middle').attr('font-size', 25).attr('fill', TITLE)
    .text(name);

  // row 1: gate
  const p1 = panel(c, 0, gateDomain, gateTicks, '.1f', 'gate');
  const flags = d3.range(frameCounts[c]).map(i => inContact(contacts[c], i) ? 1 : 0);
  p1.g.append('path').datum(flags)
    .attr('d', d3.area().curve(d3.curveStep).x((d, i) => p1.x(i)).y0(p1.y(0)).y1(d => p1.y(d)))
    .attr('fill', RED).attr('fill-opacity', 0.2)
    .attr('stroke', RED).attr('stroke-opacity', 0.3).attr('stroke-width', 1.2);
  p1.g.append('path').datum(gates[c])
    .attr('d', d3.line().x(d => p1.x(d[0])).y(d => p1.y(d[1])))
    .attr('fill', 'none').attr('stroke', BLUE).attr('stroke-width', 3).attr('stroke-linejoin', 'round');
  p1.frame();
  if (c === 0) legend(p1, 'upper', [
    { type: 'patch', label: 'GT contact' },
    { type: 'line', color: BLUE, width: 3, label: 'pred gate prob' }
  ], 31.5);

  // row 2: |F|
  const p2 = panel(c, 1, forceDomains[c], forceTicks[c], 'd', '|F| (N)');
  p2.g.append('line')
    .attr('x1', p2.left).attr('x2', p2.left + colW)
    .attr('y1', p2.y(forceThresh[c])).attr('y2', p2.y(forceThresh[c]))
    .attr('stroke', '#8b949e').attr('stroke-opacity', 0.85).attr('stroke-width', 1.5).attr('stroke-dasharray', '6,4');
  const fLine = d3.line().x(d => p2.x(d[0])).y(d => p2.y(d[1]));
  p2.g.append('path').datum(forceGT[c]).attr('d', fLine)
    .attr('fill', 'none').attr('stroke', RED).attr('stroke-width', 2.3).attr('stroke-linejoin', 'round');
  p2.g.append('path').datum(forcePred[c]).attr('d', fLine)
    .attr('fill', 'none').attr('stroke', '#4c98f0').attr('stroke-width', 2.3).attr('stroke-linejoin', 'round');
  p2.frame();
  if (c === 0) legend(p2, 'upper', [
    { type: 'line', color: RED, width: 2.5, label: 'GT |F|' },
    { type: 'line', color: '#4c98f0', width: 2.5, label: 'pred |F|' }
  ], 31.5);

  // row 3: direction cosine
  const p3 = panel(c, 2, dirDomain, dirTicks, '.1f', 'dir cos');
  contacts[c].forEach(s => {
    p3.g.append('rect')
      .attr('x', p3.x(s[0] - 0.5)).attr('width', p3.x(s[1] + 0.5) - p3.x(s[0] - 0.5))
      .attr('y', p3.y(1)).attr('height', p3.y(-1) - p3.y(1))
      .attr('fill', RED).attr('fill-opacity', 0.09)
      .attr('stroke', RED).attr('stroke-opacity', 0.16).attr('stroke-width', 1.2);
  });
  p3.g.append('line')
    .attr('x1', p3.left).attr('x2', p3.left + colW)
    .attr('y1', p3.y(dirMeans[c])).attr('y2', p3.y(dirMeans[c]))
    .attr('stroke', GREEN).attr('stroke-opacity', 0.9).attr('stroke-width', 2).attr('stroke-dasharray', '8,4.5');
  const dirAll = dirLines[c].concat(dirDots[c]).sort((a, b) => a[0] - b[0]);
  p3.g.append('path').datum(dirAll)
    .attr('d', d3.line().x(d => p3.x(d[0])).y(d => p3.y(d[1])))
    .attr('fill', 'none').attr('stroke', GREEN).attr('stroke-opacity', 0.6).attr('stroke-width', 2.2).attr('stroke-linejoin', 'round');
  p3.g.selectAll('.dot').data(dirDots[c]).enter().append('circle')
    .attr('cx', d => p3.x(d[0])).attr('cy', d => p3.y(d[1])).attr('r', 3.6)
    .attr('fill', GREEN);
  p3.g.append('text')
    .attr('x', p3.left + 13).attr('y', p3.top + rowH - 16.5)
    .attr('font-size', 16.7).attr('fill', TITLE)
    .text('mean(contact)=' + d3.format('.2f')(dirMeans[c]));
  p3.frame();
  if (c === 0) legend(p3, 'lower', [{ type: 'dot', label: 'dir cos (contact)' }], 36);

  svg.append('text')
    .attr('x', colCenter).attr('y', 1070)
    .attr('text-anchor', 'middle').attr('font-size', 18.75).attr('fill', TXT)
    .text('frame');
});
</script>
</body>
</html>
